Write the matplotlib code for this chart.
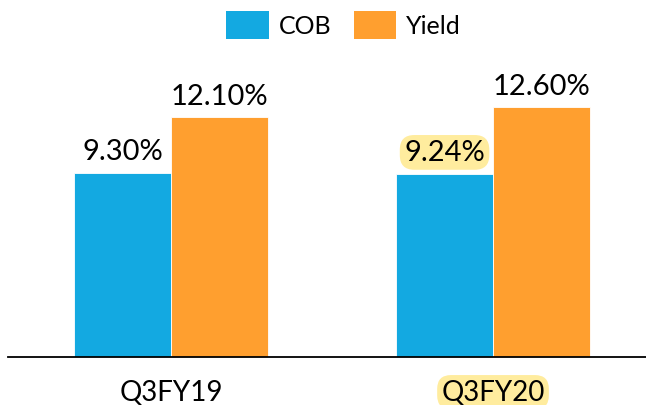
import matplotlib
matplotlib.use("Agg")
import matplotlib.pyplot as plt
from matplotlib.patches import Patch
import numpy as np

categories = ["Q3FY19", "Q3FY20"]
cob = [9.30, 9.24]
yield_ = [12.10, 12.60]
cob_labels = ["9.30%", "9.24%"]
yield_labels = ["12.10%", "12.60%"]
highlight_cat = [False, True]
highlight_cob = [False, True]

BLUE = "#13A9E1"
ORANGE = "#FF9F2F"
HL = "#FFEC9E"

plt.rcParams['font.family'] = ['Lato', 'DejaVu Sans']

fig = plt.figure(figsize=(6.46, 4.06), dpi=100)
ax = fig.add_axes([8/646, 48/406, 1 - 8/646, 358/406])

x = np.arange(len(categories))
w = 0.301
ax.bar(x - w/2, cob, w, color=BLUE, edgecolor="white", linewidth=0.6)
ax.bar(x + w/2, yield_, w, color=ORANGE, edgecolor="white", linewidth=0.6)

for i in range(len(categories)):
    kw = {}
    if highlight_cob[i]:
        kw['bbox'] = dict(boxstyle="round,pad=0.15,rounding_size=0.5", fc=HL, ec="none")
    ax.annotate(cob_labels[i], (x[i] - w/2, cob[i]), xytext=(0, 6), textcoords="offset points",
                ha="center", va="bottom", fontsize=21, color="black", **kw)
    ax.annotate(yield_labels[i], (x[i] + w/2, yield_[i]), xytext=(0, 6), textcoords="offset points",
                ha="center", va="bottom", fontsize=21, color="black")

ax.set_xlim(-0.506, 1.475)
ax.set_ylim(0, 18.05)
ax.set_xticks(x)
ax.set_xticklabels(categories, fontsize=20)
for lbl, hl in zip(ax.get_xticklabels(), highlight_cat):
    if hl:
        lbl.set_bbox(dict(boxstyle="round,pad=0.15,rounding_size=0.5", fc=HL, ec="none"))
ax.tick_params(axis="x", length=0, pad=16)
ax.set_yticks([])
for s in ["top", "right", "left"]:
    ax.spines[s].set_visible(False)
ax.spines["bottom"].set_color("black")
ax.spines["bottom"].set_linewidth(1.3)

handles = [Patch(facecolor=BLUE, label="COB"), Patch(facecolor=ORANGE, label="Yield")]
fig.legend(handles=handles, loc="center", bbox_to_anchor=(0.532, 0.936), ncol=2,
           frameon=False, fontsize=18, handlelength=1.7, handleheight=1.3,
           handletextpad=0.4, columnspacing=0.9)

fig.savefig("out.png", dpi=100)
